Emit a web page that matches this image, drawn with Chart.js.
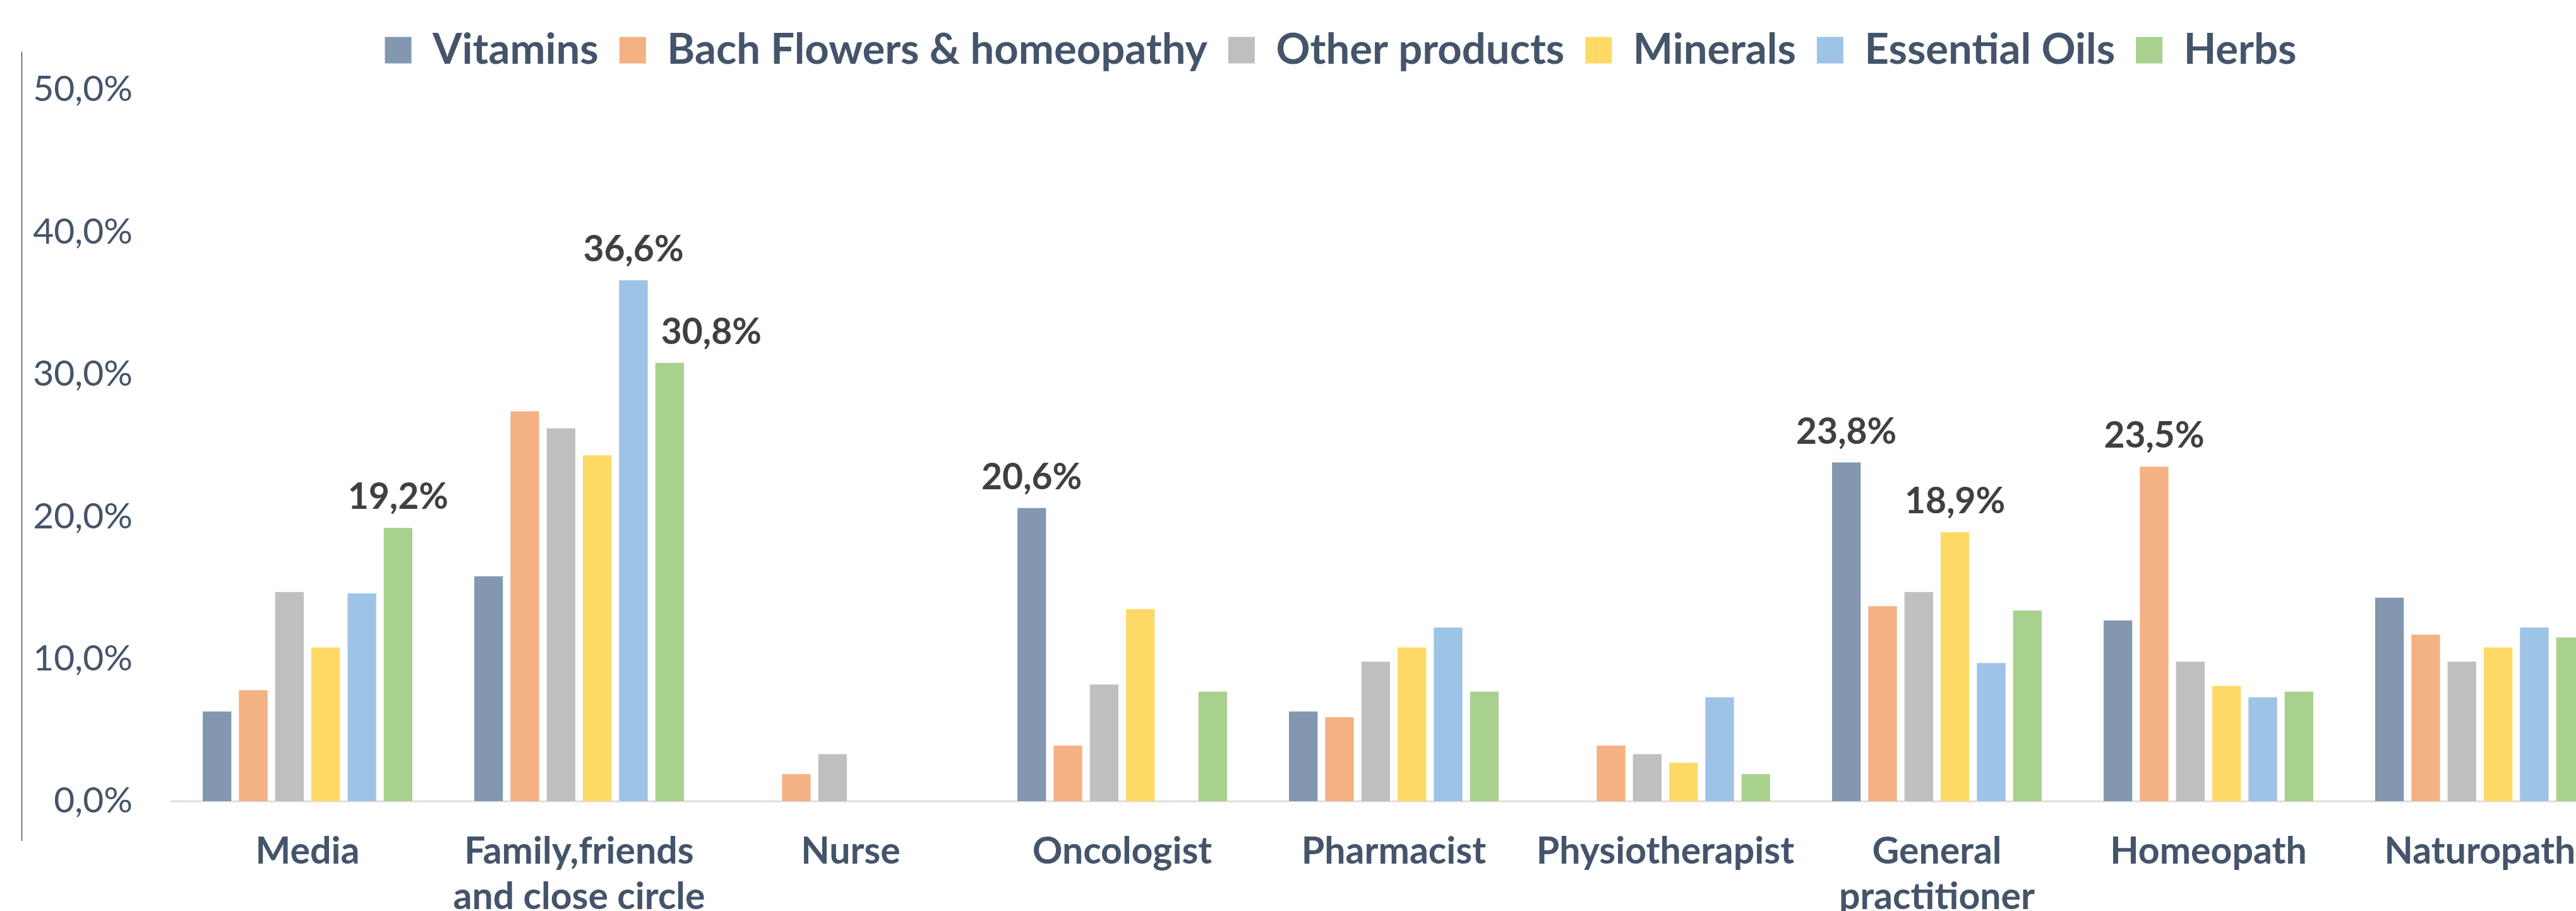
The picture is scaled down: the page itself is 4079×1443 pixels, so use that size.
<!DOCTYPE html>
<html>
<head>
<meta charset="utf-8">
<script src="https://cdn.jsdelivr.net/npm/chart.js@4.4.1/dist/chart.umd.min.js"></script>
<style>
  html, body { margin: 0; padding: 0; overflow: hidden; background: #fff; }
  #wrap { width: 4246px; height: 1500px; }
</style>
</head>
<body>
<div id="wrap"><canvas id="advice"></canvas></div>
<script>
const categories = ['Media', ['Family,friends', 'and close circle'], 'Nurse', 'Oncologist', 'Pharmacist',
  'Physiotherapist', ['General', 'practitioner'], 'Homeopath', 'Naturopath'];

const vitamins = [6.3, 15.8, 0, 20.6, 6.3, 0, 23.8, 12.7, 14.3];
const bachFlowers = [7.8, 27.4, 1.9, 3.9, 5.9, 3.9, 13.7, 23.5, 11.7];
const otherProducts = [14.7, 26.2, 3.3, 8.2, 9.8, 3.3, 14.7, 9.8, 9.8];
const minerals = [10.8, 24.3, 0, 13.5, 10.8, 2.7, 18.9, 8.1, 10.8];
const essentialOils = [14.6, 36.6, 0, 0, 12.2, 7.3, 9.7, 7.3, 12.2];
const herbs = [19.2, 30.8, 0, 7.7, 7.7, 1.9, 13.4, 7.7, 11.5];

const yTicks = [0, 10, 20, 30, 40, 50];

// bars that carry a value label: [dataset, category]
const labelled = [[5, 0], [4, 1], [5, 1], [0, 3], [0, 6], [3, 6], [1, 7]];

const textColor = '#44546a';
const fmt = v => v.toFixed(1).replace('.', ',') + '%';

const valueLabels = {
  id: 'valueLabels',
  afterDatasetsDraw(chart, args, opts) {
    const ctx = chart.ctx;
    ctx.save();
    ctx.font = 'bold 57px Lato';
    ctx.fillStyle = '#404040';
    ctx.textAlign = 'center';
    ctx.textBaseline = 'alphabetic';
    labelled.forEach(([d, i]) => {
      const bar = chart.getDatasetMeta(d).data[i];
      const v = chart.data.datasets[d].data[i];
      const dx = opts.shift[d + '-' + i] || 0;
      ctx.fillText(fmt(v), bar.x + dx, bar.y - 30);
    });
    ctx.restore();
  }
};

// thin vertical rule left of the value axis
const axisRule = {
  id: 'axisRule',
  afterDraw(chart) {
    const { ctx, chartArea } = chart;
    const x = chartArea.left - 237.5;
    ctx.save();
    ctx.strokeStyle = '#44546a';
    ctx.lineWidth = 1.5;
    ctx.beginPath();
    ctx.moveTo(x, chartArea.top - 60);
    ctx.lineTo(x, chartArea.bottom + 63);
    ctx.stroke();
    ctx.restore();
  }
};

// extra room under the legend, and centre it on the whole figure
const legendFit = {
  id: 'legendFit',
  beforeLayout(chart) {
    const lg = chart.legend;
    if (lg && !lg._gapped) {
      const fit = lg.fit;
      lg.fit = function () { fit.call(this); this.height += 19; };
      lg._gapped = true;
    }
  },
  afterLayout(chart, args, opts) {
    const lg = chart.legend;
    lg.left += opts.shift;
    lg.right += opts.shift;
  }
};

function draw() {
  const set = (label, data, color) => ({
    label, data, backgroundColor: color, borderWidth: 0,
    barPercentage: 0.79, categoryPercentage: 0.8
  });

  new Chart(document.getElementById('advice'), {
    type: 'bar',
    data: {
      labels: categories,
      datasets: [
        set('Vitamins', vitamins, '#8497b0'),
        set('Bach Flowers & homeopathy', bachFlowers, '#f4b183'),
        set('Other products', otherProducts, '#bfbfbf'),
        set('Minerals', minerals, '#ffd966'),
        set('Essential Oils', essentialOils, '#9dc3e6'),
        set('Herbs', herbs, '#a9d18e')
      ]
    },
    options: {
      responsive: true,
      maintainAspectRatio: false,
      animation: false,
      layout: { padding: { top: 13, right: 104, left: 0, bottom: 0 } },
      plugins: {
        tooltip: { enabled: false },
        legend: {
          position: 'top',
          labels: {
            color: textColor,
            font: { family: 'Lato', size: 67, weight: 'bold', lineHeight: 1 },
            boxWidth: 42,
            boxHeight: 42,
            padding: 33
          }
        },
        legendFit: { shift: 52 },
        valueLabels: { shift: { '5-1': 66 } }
      },
      scales: {
        x: {
          grid: { display: false, drawTicks: false },
          border: { display: true, color: '#d9d9d9', width: 2.5 },
          ticks: {
            color: textColor,
            padding: 44,
            maxRotation: 0,
            autoSkip: false,
            font: { family: 'Lato', size: 59, weight: 'bold', lineHeight: 72 / 59 }
          },
          afterFit(scale) { scale.height = 1500 - 1269; }
        },
        y: {
          min: 0,
          max: 50,
          afterBuildTicks(scale) { scale.ticks = yTicks.map(v => ({ value: v })); },
          grid: { display: false, drawTicks: false },
          border: { display: false },
          ticks: {
            color: textColor,
            padding: 62,
            font: { family: 'Lato', size: 57 },
            callback: v => fmt(v)
          },
          afterFit(scale) { scale.width = 272; }
        }
      }
    },
    plugins: [legendFit, valueLabels, axisRule]
  });
}

Promise.all([
  document.fonts.load('bold 59px Lato'),
  document.fonts.load('57px Lato')
]).finally(draw);
</script>
</body>
</html>
